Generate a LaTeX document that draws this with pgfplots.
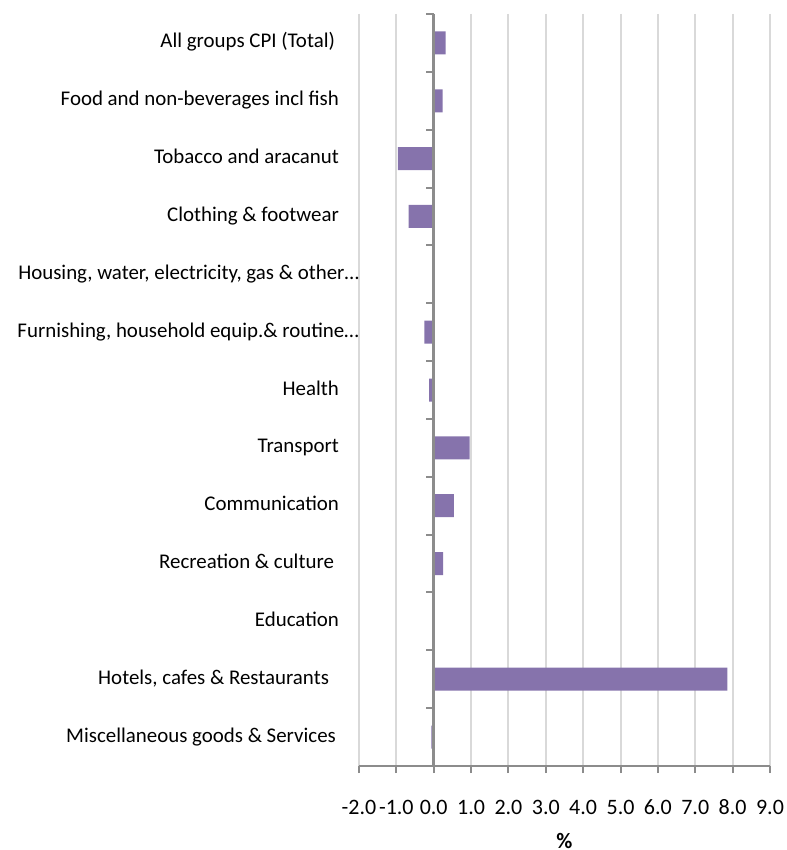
\documentclass[border=0pt]{standalone}
\usepackage{fontspec}
\setmainfont{Carlito}
\usepackage{pgfplots}
\usepackage{pgfplotstable}
\pgfplotsset{compat=1.18}
\usetikzlibrary{calc}

\definecolor{barpurple}{RGB}{134,115,172}
\definecolor{gridgray}{RGB}{217,217,217}
\definecolor{axisgray}{RGB}{140,140,140}

% CPI change by group, in %, top to bottom
\pgfplotstableread{
idx value
0 0.32
1 0.24
2 -0.96
3 -0.67
4 0
5 -0.25
6 -0.12
7 0.96
8 0.54
9 0.25
10 0
11 7.86
12 -0.06
}\cpidata

\begin{document}
\begin{tikzpicture}
\begin{axis}[
  name=ax,
  scale only axis,
  width=205.5pt, height=376pt,
  xmin=-2, xmax=9,
  ymin=-0.5, ymax=12.5,
  y dir=reverse,
  axis x line*=bottom,
  axis y line*=left,
  y axis line style={draw=none},
  x axis line style={axisgray, line width=1.2pt},
  xtick={-2,-1,...,9},
  xtick style={axisgray, line width=1pt},
  tick align=outside,
  major tick length=3.5pt,
  ytick={0,1,...,12},
  ytick style={draw=none},
  xmajorgrids,
  grid style={gridgray, line width=1pt},
  typeset ticklabels with strut,
  xticklabel style={font=\fontsize{11}{13}\selectfont, yshift=-8pt},
  yticklabel style={font=\fontsize{10.45}{12.5}\selectfont, xshift=-3pt},
  /pgf/number format/.cd, fixed, fixed zerofill, precision=1, assume math mode=true,
  /pgfplots/.cd,
  yticklabels={
    All groups CPI (Total)\hspace*{2pt},
    Food and non-beverages incl fish,
    Tobacco and aracanut,
    Clothing \& footwear,
    {Housing, water, electricity, gas \& other…\hspace*{-10pt}},
    {Furnishing, household equip.\& routine…\hspace*{-10pt}},
    Health,
    Transport,
    Communication,
    Recreation \& culture\hspace*{2.5pt},
    Education,
    {Hotels, cafes \& Restaurants\hspace*{5pt}},
    Miscellaneous goods \& Services\hspace*{1.5pt}
  },
  xlabel={\textbf{\%}},
  xlabel style={font=\fontsize{11}{13}\selectfont, yshift=1pt},
]
\addplot[xbar, bar width=11.5pt, bar shift=0pt, fill=barpurple, draw=none]
  table[x=value, y=idx] {\cpidata};
% vertical axis crossing at zero, with category separators
\draw[axisgray, line width=1.4pt] (axis cs:0,-0.5) -- (axis cs:0,12.5);
\pgfplotsinvokeforeach{-0.5,0.5,...,12.5}{
  \draw[axisgray, line width=1pt] (axis cs:0,#1) -- ++(-4pt,0pt);
}
\end{axis}
\pgfresetboundingbox
\path[use as bounding box]
  ($(ax.south west)+(-179.5pt,-42pt)$) rectangle ($(ax.north east)+(8pt,7pt)$);
\end{tikzpicture}
\end{document}
